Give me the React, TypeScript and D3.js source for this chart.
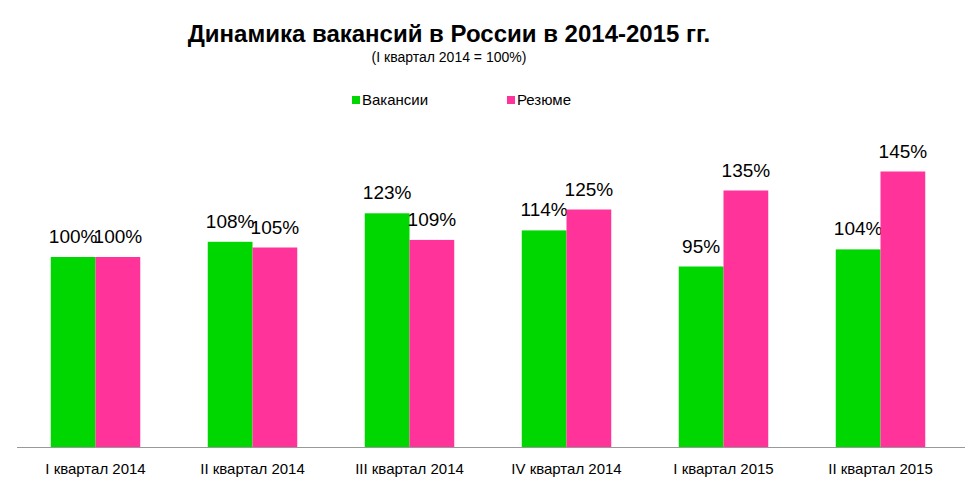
import React from 'react';
import * as d3 from 'd3';

const categories = ['I квартал 2014', 'II квартал 2014', 'III квартал 2014', 'IV квартал 2014', 'I квартал 2015', 'II квартал 2015'];
const vacancies = [100, 108, 123, 114, 95, 104];
const resumes = [100, 105, 109, 125, 135, 145];
const seriesNames = ['Вакансии', 'Резюме'];
const colors = ['#00d600', '#ff3399'];

const W = 975;
const H = 499;
const baseline = 447;

const App: React.FC = () => {
  const x = d3.scaleBand<string>().domain(categories).range([17, 959]).paddingInner(0.43).paddingOuter(0.215);
  const y = d3.scaleLinear().domain([0, 100]).range([baseline, baseline - 190]);
  const bw = x.bandwidth() / 2;
  const font = 'Liberation Sans, Arial, sans-serif';
  const series = [vacancies, resumes];

  return (
    <svg width={W} height={H} style={{ position: 'absolute', left: 0, top: 0, background: '#fff' }} fontFamily={font}>
      <text x={449} y={42} textAnchor="middle" fontSize={24} fontWeight="bold">Динамика вакансий в России в 2014-2015 гг.</text>
      <text x={449} y={62} textAnchor="middle" fontSize={14}>(I квартал 2014 = 100%)</text>
      {seriesNames.map((n, i) => (
        <g key={n} transform={`translate(${352 + i * 155},0)`}>
          <rect x={0} y={96} width={8} height={8} fill={colors[i]} />
          <text x={10} y={105} fontSize={15}>{n}</text>
        </g>
      ))}
      {categories.map((c, ci) => (
        <g key={c}>
          {series.map((s, si) => {
            const bx = (x(c) ?? 0) + si * bw;
            return (
              <g key={si}>
                <rect x={bx} y={y(s[ci])} width={bw} height={baseline - y(s[ci])} fill={colors[si]} />
                <text x={bx + bw / 2} y={y(s[ci]) - 14} textAnchor="middle" fontSize={19}>{s[ci]}%</text>
              </g>
            );
          })}
          <text x={(x(c) ?? 0) + x.bandwidth() / 2} y={474} textAnchor="middle" fontSize={15}>{c}</text>
        </g>
      ))}
      <line x1={17} x2={965} y1={baseline + 0.5} y2={baseline + 0.5} stroke="#999" />
    </svg>
  );
};

export default App;
